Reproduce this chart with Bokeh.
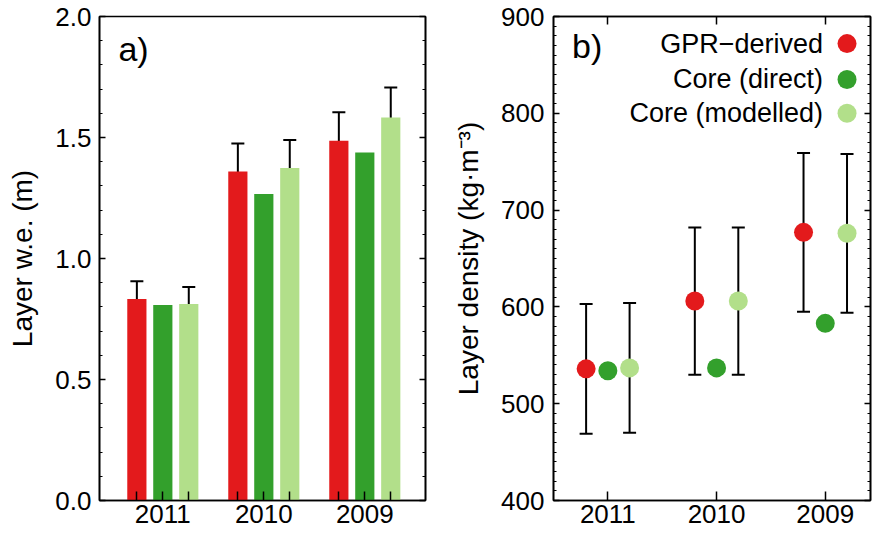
from bokeh.plotting import figure
from bokeh.layouts import row
from bokeh.models import (Range1d, LinearAxis, FixedTicker, ColumnDataSource,
                          Whisker, TeeHead, Label, PrintfTickFormatter)
from bokeh.embed import file_html
from bokeh.resources import INLINE
from bokeh.core.properties import value

# ---------------- data ----------------
years = ["2011", "2010", "2009"]
series = ["GPR\u2212derived", "Core (direct)", "Core (modelled)"]
colors = ["#E31A1C", "#33A02C", "#B2DF8A"]

# panel a: layer water equivalent (m)
we_gpr = [0.833, 1.360, 1.487]
we_gpr_err = [0.073, 0.115, 0.117]
we_direct = [0.808, 1.267, 1.438]
we_model = [0.812, 1.374, 1.583]
we_model_err = [0.070, 0.116, 0.124]

# panel b: layer density (kg m-3)
dens_gpr = [536, 606, 677]
dens_gpr_err = [67, 76, 82]
dens_direct = [534, 537, 583]
dens_model = [537, 606, 676]
dens_model_err = [67, 76, 82]

we_ticks = [0, 0.5, 1.0, 1.5, 2.0]
dens_ticks = [400, 500, 600, 700, 800, 900]

# ---------------- style / layout ----------------
FONT = "Liberation Sans"
TICK_FS = "26px"
LABEL_FS = "28px"
LEG_FS = "27px"
group_x = [1, 2, 3]
off_a = [-0.257, 0.0, 0.257]
off_b = [-0.2, 0.0, 0.2]
bar_w = 0.19


def style_axis(ax, labels=True):
    ax.axis_line_color = "black"
    ax.axis_line_width = 1.6
    ax.major_tick_line_color = "black"
    ax.minor_tick_line_color = "black"
    ax.major_tick_line_width = 1.5
    ax.minor_tick_line_width = 1.2
    ax.major_tick_out = 0
    ax.minor_tick_out = 0
    ax.major_label_text_font = FONT
    ax.major_label_text_color = "black"
    ax.major_label_text_font_size = TICK_FS
    ax.axis_label_text_font = FONT
    ax.axis_label_text_font_style = "normal"
    ax.axis_label_text_font_size = LABEL_FS
    ax.axis_label_text_color = "black"
    if not labels:
        ax.major_label_overrides = {t: "" for t in ax.ticker.ticks}
        ax.major_label_standoff = 0


def base_fig(xr, yr, left, right, fw):
    p = figure(frame_width=fw, frame_height=484, x_range=xr, y_range=yr,
               output_backend="svg", toolbar_location=None,
               min_border_left=left, min_border_right=right,
               min_border_top=16, min_border_bottom=36,
               x_axis_location=None, y_axis_location=None)
    p.xgrid.visible = False
    p.ygrid.visible = False
    p.outline_line_color = "black"
    p.outline_line_width = 1.6
    p.background_fill_color = "white"
    p.border_fill_color = "white"
    return p


def add_errors(p, vals, errs, off):
    src = ColumnDataSource(dict(x=[g + off for g in group_x],
                                lo=[v - e for v, e in zip(vals, errs)],
                                hi=[v + e for v, e in zip(vals, errs)]))
    w = Whisker(source=src, base="x", lower="lo", upper="hi", line_width=2,
                line_color="black",
                upper_head=TeeHead(size=13, line_width=2, line_color="black"),
                lower_head=TeeHead(size=13, line_width=2, line_color="black"))
    p.add_layout(w)


# ================= panel a =================
pa = base_fig(Range1d(0.373, 3.601), Range1d(0, 2.0), 99, 14, 326)

left_a = LinearAxis(ticker=FixedTicker(ticks=we_ticks,
                                       minor_ticks=[i / 10 for i in range(21)]),
                    axis_label="Layer w.e. (m)")
style_axis(left_a)
left_a.major_tick_in = 6
left_a.minor_tick_in = 3
left_a.major_label_standoff = 8
left_a.axis_label_standoff = 14
left_a.formatter = PrintfTickFormatter(format="%.1f")
pa.add_layout(left_a, "left")

right_a = LinearAxis(ticker=FixedTicker(ticks=we_ticks,
                                        minor_ticks=[i / 10 for i in range(21)]))
style_axis(right_a, labels=False)
right_a.major_tick_in = 6
right_a.minor_tick_in = 3
pa.add_layout(right_a, "right")

bar_minor = [g + o for g in group_x for o in off_a if o != 0]
bottom_a = LinearAxis(ticker=FixedTicker(ticks=group_x, minor_ticks=bar_minor))
style_axis(bottom_a)
bottom_a.major_tick_in = 9
bottom_a.minor_tick_in = 9
bottom_a.minor_tick_line_width = 1.5
bottom_a.major_label_standoff = 4
bottom_a.major_label_overrides = {g: y for g, y in zip(group_x, years)}
pa.add_layout(bottom_a, "below")

vals_a = [we_gpr, we_direct, we_model]
for vals, off, col in zip(vals_a, off_a, colors):
    xs = [g + off for g in group_x]
    pa.vbar(x=xs, top=vals, width=bar_w, bottom=0, fill_color=col, line_color=None)

add_errors(pa, we_gpr, we_gpr_err, off_a[0])
add_errors(pa, we_model, we_model_err, off_a[2])

pa.add_layout(Label(x=0.56, y=1.864, text="a)", text_font=FONT,
                    text_font_size="34px", text_baseline="middle", text_color="black"))

# ================= panel b =================
pb = base_fig(Range1d(0.5, 3.416), Range1d(400, 900), 114, 4, 317)

left_b = LinearAxis(ticker=FixedTicker(ticks=dens_ticks,
                                       minor_ticks=list(range(400, 901, 10))),
                    axis_label="Layer density (kg\u00b7m\u207b\u00b3)")
style_axis(left_b)
left_b.major_tick_in = 6
left_b.minor_tick_in = 3
left_b.major_label_standoff = 9
left_b.axis_label_standoff = 14
pb.add_layout(left_b, "left")

right_b = LinearAxis(ticker=FixedTicker(ticks=dens_ticks,
                                        minor_ticks=list(range(400, 901, 10))))
style_axis(right_b, labels=False)
right_b.major_tick_in = 6
right_b.minor_tick_in = 3
pb.add_layout(right_b, "right")

bottom_b = LinearAxis(ticker=FixedTicker(ticks=group_x, minor_ticks=[]))
style_axis(bottom_b)
bottom_b.major_tick_in = 9
bottom_b.major_label_standoff = 4
bottom_b.major_label_overrides = {g: y for g, y in zip(group_x, years)}
pb.add_layout(bottom_b, "below")

top_b = LinearAxis(ticker=FixedTicker(ticks=group_x, minor_ticks=[]))
style_axis(top_b, labels=False)
top_b.major_tick_in = 8
pb.add_layout(top_b, "above")

vals_b = [dens_gpr, dens_direct, dens_model]
for vals, off, col in zip(vals_b, off_b, colors):
    xs = [g + off for g in group_x]
    pb.scatter(x=xs, y=vals, size=19, fill_color=col, line_color=None)

add_errors(pb, dens_gpr, dens_gpr_err, off_b[0])
add_errors(pb, dens_model, dens_model_err, off_b[2])

# legend (text right-aligned, marker to the right)
LEG_TX = 2.98
LEG_MX = 3.2
LEG_Y = [872, 835, 800]
pb.text(x=[LEG_TX] * 3, y=LEG_Y, text=series, text_align="right",
        text_baseline="middle", text_font=value(FONT), text_font_size=LEG_FS,
        text_color="black")
pb.scatter(x=[LEG_MX] * 3, y=LEG_Y, size=19, fill_color=colors, line_color=None)

pb.add_layout(Label(x=0.67, y=870, text="b)", text_font=FONT,
                    text_font_size="34px", text_baseline="middle", text_color="black"))

layout = row(pa, pb)
open("out.html", "w").write(file_html(layout, INLINE))
